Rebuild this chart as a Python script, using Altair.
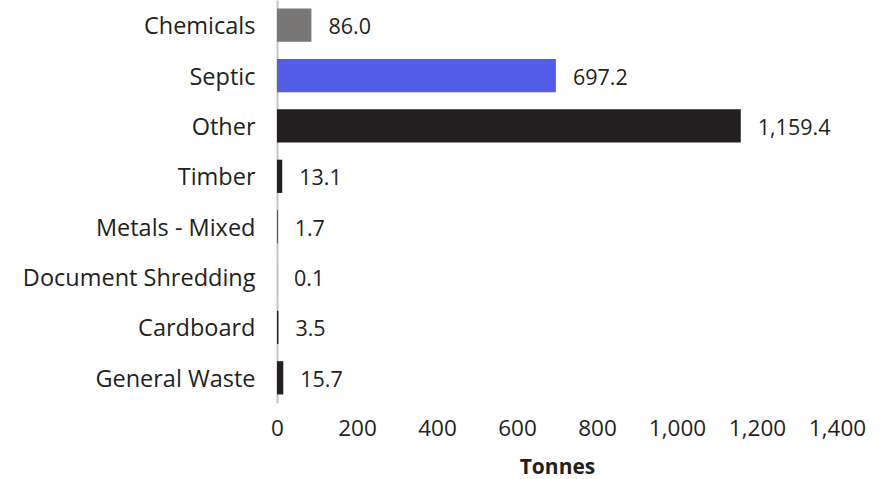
import altair as alt
import pandas as pd

categories = ["Chemicals", "Septic", "Other", "Timber", "Metals - Mixed",
              "Document Shredding", "Cardboard", "General Waste"]
tonnes = [86.0, 697.2, 1159.4, 13.1, 1.7, 0.1, 3.5, 15.7]
colors = ["#797776", "#535ee8", "#231f20", "#231f20", "#231f20",
          "#231f20", "#231f20", "#231f20"]
tick_values = [0, 200, 400, 600, 800, 1000, 1200, 1400]

df = pd.DataFrame({"category": categories, "tonnes": tonnes, "color": colors})

FONT = "Open Sans"

y = alt.Y("category:N", sort=categories, title=None,
          scale=alt.Scale(paddingInner=0.34, paddingOuter=0.17),
          axis=alt.Axis(labelFont=FONT, labelFontSize=23.5, labelColor="#231f20",
                        labelPadding=22, ticks=False, domainColor="#c8c4c2",
                        domainWidth=2, labelLimit=400, labelOffset=2))
x = alt.X("tonnes:Q", title="Tonnes",
          scale=alt.Scale(domain=[0, 1400], nice=False),
          axis=alt.Axis(values=tick_values,
                        format=",d", grid=False, domain=False, ticks=False,
                        labelOverlap=False, labelFlush=False,
                        labelFont=FONT, labelFontSize=22.5, labelColor="#231f20",
                        labelPadding=14, titleFont=FONT, titleFontSize=21,
                        titleFontWeight="bold", titleColor="#231f20",
                        titlePadding=17))

bars = alt.Chart(df).mark_bar().encode(
    x=x, y=y, color=alt.Color("color:N", scale=None)
)
labels = alt.Chart(df).mark_text(
    align="left", baseline="middle", dx=17, dy=3, font=FONT, fontSize=21.5,
    color="#231f20"
).encode(x="tonnes:Q", y=alt.Y("category:N", sort=categories),
         text=alt.Text("tonnes:Q", format=",.1f"))

chart = (bars + labels).properties(
    width=560, height=403,
    autosize=alt.AutoSizeParams(type="none"),
    padding={"left": 277, "top": 0, "right": 56, "bottom": 76},
    background="white",
).configure_view(stroke=None)

chart.save("out.html", embed_options={"renderer": "svg", "actions": False})
